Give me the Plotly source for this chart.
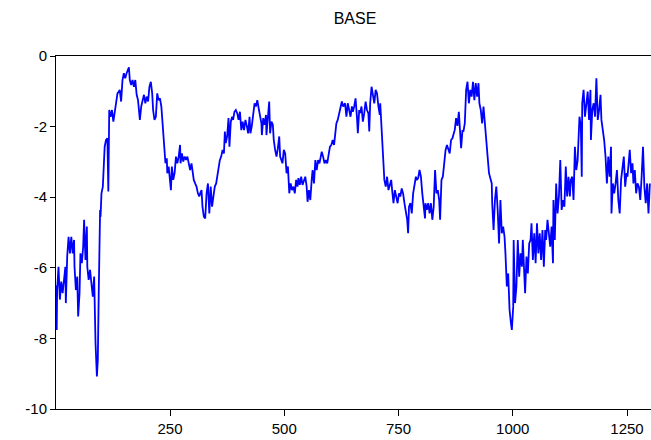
import plotly.graph_objects as go

# Observation numbers and BASE values
obs_1 = [1, 2, 3, 6, 9, 12, 15, 18, 21, 22, 25, 28, 31, 34, 37, 40, 41, 44, 47, 49, 52, 54, 57, 60, 62, 65, 68, 69,
         72, 75, 78, 81, 84, 85, 87, 90, 92, 94, 95, 97, 98, 100, 103, 105, 107, 110, 113, 115, 117, 120, 123, 126,
         129, 132, 135, 138, 140, 143, 146, 149, 152, 155, 158, 160, 162, 165, 168, 171, 174, 177, 180, 183, 184,
         187, 190, 193, 196, 199, 202, 205, 208, 211, 213, 216, 219, 222, 225, 228, 231, 234, 237, 240, 243, 244,
         247, 250, 252, 254, 257, 260, 263, 266, 269, 272, 273, 276, 279, 282, 285, 288, 291, 294, 297, 300, 302,
         305, 308, 311, 314]
base_1 = [-6.5, -7.76, -6.63, -5.97, -6.9, -6.39, -6.72, -6.25, -5.97, -7.0, -5.68, -5.12, -5.59, -5.12, -5.59,
          -5.21, -5.97, -6.63, -6.25, -7.38, -6.72, -5.59, -5.87, -5.40, -4.64, -5.78, -4.83, -5.97, -6.34, -6.06,
          -6.53, -6.82, -6.25, -7.29, -8.14, -9.08, -8.61, -6.72, -5.31, -4.36, -4.55, -3.89, -3.70, -2.95, -2.57,
          -2.38, -2.33, -3.84, -1.53, -1.72, -1.53, -1.86, -1.62, -1.34, -1.06, -1.01, -0.96, -1.29, -0.68, -0.49,
          -0.63, -0.49, -0.40, -0.32, -0.68, -0.82, -0.68, -0.87, -0.68, -1.10, -1.25, -1.62, -1.81, -1.43, -1.25,
          -1.10, -1.34, -1.15, -1.29, -0.87, -0.73, -1.06, -1.53, -1.81, -1.72, -1.06, -1.25, -1.20, -1.43, -2.0,
          -2.47, -3.04, -2.90, -3.32, -3.13, -3.51, -3.80, -3.13, -3.51, -3.32, -2.85, -3.04, -2.85, -2.52, -3.04,
          -2.76, -2.99, -2.85, -2.94, -2.85, -3.04, -3.23, -3.04, -3.32, -3.51, -3.61, -3.70, -3.89, -3.98]

obs_2 = [316, 319, 321, 324, 327, 330, 333, 336, 339, 342, 345, 348, 351, 354, 356, 359, 362, 365, 368, 370, 372,
         375, 378, 380, 383, 386, 388, 391, 394, 397, 400, 403, 406, 409, 412, 415, 418, 421, 424, 426, 429, 432,
         435, 438, 441, 444, 447, 450, 451, 454, 457, 460, 461, 464, 467, 469, 472, 475, 477, 480, 483, 486, 489,
         491, 493, 496, 499, 502, 505, 508, 511, 514, 517, 520, 523, 526, 529, 531, 534, 537, 540, 543, 546, 549,
         551, 554, 557, 560, 562, 565, 568, 571, 574, 577, 579, 582, 585, 588, 591, 594, 597, 600, 603, 606, 609,
         612, 614, 617, 620, 623, 626, 629]
base_2 = [-3.89, -3.80, -4.27, -4.55, -4.60, -3.89, -3.61, -4.46, -3.70, -4.27, -3.98, -3.70, -3.61, -3.32, -3.23,
          -2.95, -2.85, -2.66, -2.76, -2.14, -2.47, -2.28, -1.76, -2.57, -1.86, -1.72, -1.81, -1.58, -1.53, -1.62,
          -1.81, -1.58, -2.10, -1.86, -2.10, -1.81, -1.98, -2.19, -1.72, -2.19, -1.98, -1.62, -1.34, -1.43, -1.25,
          -1.48, -1.72, -1.91, -2.24, -1.76, -1.95, -1.67, -2.24, -1.81, -1.29, -2.19, -1.86, -1.95, -2.38, -2.66,
          -2.85, -2.61, -2.28, -2.85, -2.95, -3.04, -2.66, -2.76, -3.32, -3.13, -3.89, -3.61, -3.80, -3.70, -3.89,
          -3.51, -3.70, -3.46, -3.65, -3.42, -3.65, -3.51, -3.42, -3.70, -4.13, -3.80, -4.08, -3.51, -3.23, -3.61,
          -2.95, -3.23, -2.95, -3.04, -2.85, -2.71, -2.85, -3.04, -2.95, -3.04, -2.80, -2.57, -2.52, -2.38, -2.52,
          -2.14, -1.91, -1.81, -1.62, -1.53, -1.29, -1.43]

obs_3 = [633, 636, 639, 642, 645, 648, 650, 653, 656, 659, 661, 664, 666, 669, 672, 675, 678, 681, 684, 686, 688,
         691, 694, 697, 700, 703, 706, 709, 710, 713, 715, 717, 719, 722, 725, 728, 731, 734, 736, 739, 742, 745,
         748, 751, 754, 757, 760, 763, 766, 769, 771, 773, 776, 779, 782, 785, 788, 790, 793, 796, 799, 802, 805,
         808, 809, 812, 815, 818, 821, 824, 827, 830, 833, 836, 839, 841, 844, 847, 850, 853, 856, 859, 862, 865,
         868, 871, 873, 876, 879, 882, 885, 887, 890, 892, 895, 898, 901, 904, 907, 910, 913, 916, 919, 922, 925,
         927, 930, 933, 936, 939, 942, 945, 948, 951, 954, 955, 958]
base_3 = [-1.34, -1.72, -1.34, -1.53, -1.72, -1.43, -1.58, -1.43, -1.20, -1.72, -2.19, -1.53, -1.62, -1.43, -1.86,
          -1.62, -1.29, -1.53, -1.62, -2.14, -1.34, -0.87, -1.06, -1.34, -0.96, -1.06, -1.43, -1.67, -1.34, -2.0,
          -2.57, -2.76, -3.51, -3.70, -3.42, -3.80, -3.61, -3.51, -3.80, -4.17, -3.80, -3.98, -4.17, -3.89, -3.98,
          -3.75, -3.89, -4.17, -4.36, -4.64, -5.02, -4.27, -4.17, -4.46, -3.89, -3.61, -3.42, -3.51, -3.46, -3.23,
          -3.42, -3.89, -4.36, -4.60, -4.17, -4.36, -4.17, -4.46, -4.17, -4.64, -4.27, -3.23, -3.89, -3.80, -4.08,
          -4.64, -3.51, -3.42, -3.04, -2.66, -2.52, -2.66, -2.76, -2.38, -2.33, -2.19, -2.10, -1.76, -1.98, -1.58,
          -2.19, -2.61, -2.10, -2.14, -1.91, -0.96, -0.73, -1.34, -0.96, -1.15, -0.73, -1.25, -0.77, -1.15, -0.77,
          -1.34, -1.53, -1.91, -1.43, -2.0, -2.57, -2.85, -3.32, -3.51, -3.61, -4.17, -4.93]

obs_4 = [961, 964, 967, 970, 973, 976, 979, 982, 984, 987, 990, 993, 996, 998, 1001, 1002, 1005, 1008, 1011, 1014,
         1017, 1020, 1022, 1025, 1027, 1030, 1033, 1036, 1039, 1041, 1044, 1047, 1050, 1053, 1056, 1059, 1062,
         1065, 1068, 1071, 1073, 1076, 1079, 1082, 1085, 1088, 1089, 1092, 1095, 1098, 1101, 1104, 1107, 1110,
         1113, 1116, 1119, 1122, 1125, 1127, 1130, 1133, 1136, 1139, 1142, 1145, 1146, 1149, 1151, 1152, 1155,
         1158, 1161, 1164, 1167, 1170, 1171, 1174, 1177, 1180, 1183, 1186, 1189, 1192, 1194, 1197, 1200, 1203,
         1206, 1209, 1212, 1215, 1216, 1219, 1222, 1225, 1228, 1231, 1234, 1237, 1240, 1243, 1246, 1249, 1251,
         1254, 1256, 1259, 1262, 1264, 1267, 1270, 1273, 1276, 1279, 1282, 1285, 1288, 1291, 1294, 1297, 1300]
base_4 = [-4.08, -3.70, -4.36, -5.31, -4.08, -5.02, -4.83, -5.12, -5.59, -6.53, -6.16, -7.19, -7.57, -7.76, -7.10,
          -5.21, -7.0, -6.53, -5.21, -6.25, -5.59, -5.97, -5.21, -5.97, -6.72, -5.68, -6.16, -5.31, -5.21, -4.74,
          -5.78, -5.02, -5.87, -4.74, -5.59, -5.02, -5.78, -4.93, -5.97, -4.93, -5.21, -4.64, -5.12, -5.40, -4.83,
          -5.87, -4.08, -5.21, -3.61, -4.46, -3.98, -2.95, -4.36, -4.08, -4.27, -3.13, -3.98, -3.42, -3.98, -3.51,
          -3.42, -4.08, -2.57, -3.23, -2.95, -2.28, -1.72, -2.0, -3.42, -1.34, -0.96, -1.72, -1.34, -1.01, -1.81,
          -0.96, -2.38, -1.53, -1.34, -1.72, -0.63, -1.81, -1.53, -1.10, -1.81, -2.10, -2.38, -2.85, -3.61, -2.85,
          -3.42, -2.57, -4.46, -3.61, -3.89, -3.61, -3.23, -4.08, -4.46, -3.51, -3.23, -2.85, -3.70, -3.32, -3.42,
          -3.04, -2.66, -3.32, -3.04, -3.61, -3.23, -3.89, -3.61, -3.70, -4.08, -3.42, -2.57, -3.70, -4.17, -3.61,
          -4.46, -3.61]

obs = obs_1 + obs_2 + obs_3 + obs_4
base = base_1 + base_2 + base_3 + base_4

x_ticks = [250, 500, 750, 1000, 1250]
y_ticks = [0, -2, -4, -6, -8, -10]

FONT = "Liberation Sans, Arial, sans-serif"

fig = go.Figure(
    go.Scatter(
        x=obs,
        y=base,
        mode="lines",
        line=dict(color="#0000FF", width=1.8),
        hoverinfo="skip",
    )
)

fig.update_layout(
    width=651,
    height=440,
    margin=dict(l=56, r=0, t=56, b=31),
    paper_bgcolor="white",
    plot_bgcolor="white",
    showlegend=False,
    font=dict(family=FONT, size=15, color="black"),
    title=dict(
        text="BASE",
        x=355 / 651,
        xref="container",
        xanchor="center",
        y=1 - 18 / 440,
        yref="container",
        yanchor="middle",
        font=dict(family=FONT, size=16, color="black"),
    ),
)

fig.update_xaxes(
    range=[0.5, 1302.5],
    tickmode="array",
    tickvals=x_ticks,
    ticktext=[str(v) for v in x_ticks],
    ticks="outside",
    ticklen=6,
    tickcolor="black",
    tickwidth=1,
    showline=True,
    linecolor="black",
    linewidth=1,
    mirror=True,
    showgrid=False,
    zeroline=False,
)

fig.update_yaxes(
    range=[-10, 0],
    tickmode="array",
    tickvals=y_ticks,
    ticktext=[str(v) for v in y_ticks],
    ticks="outside",
    ticklen=5,
    tickcolor="black",
    tickwidth=1,
    showline=True,
    linecolor="black",
    linewidth=1,
    mirror=False,
    showgrid=False,
    zeroline=False,
)

fig.write_html("out.html")
